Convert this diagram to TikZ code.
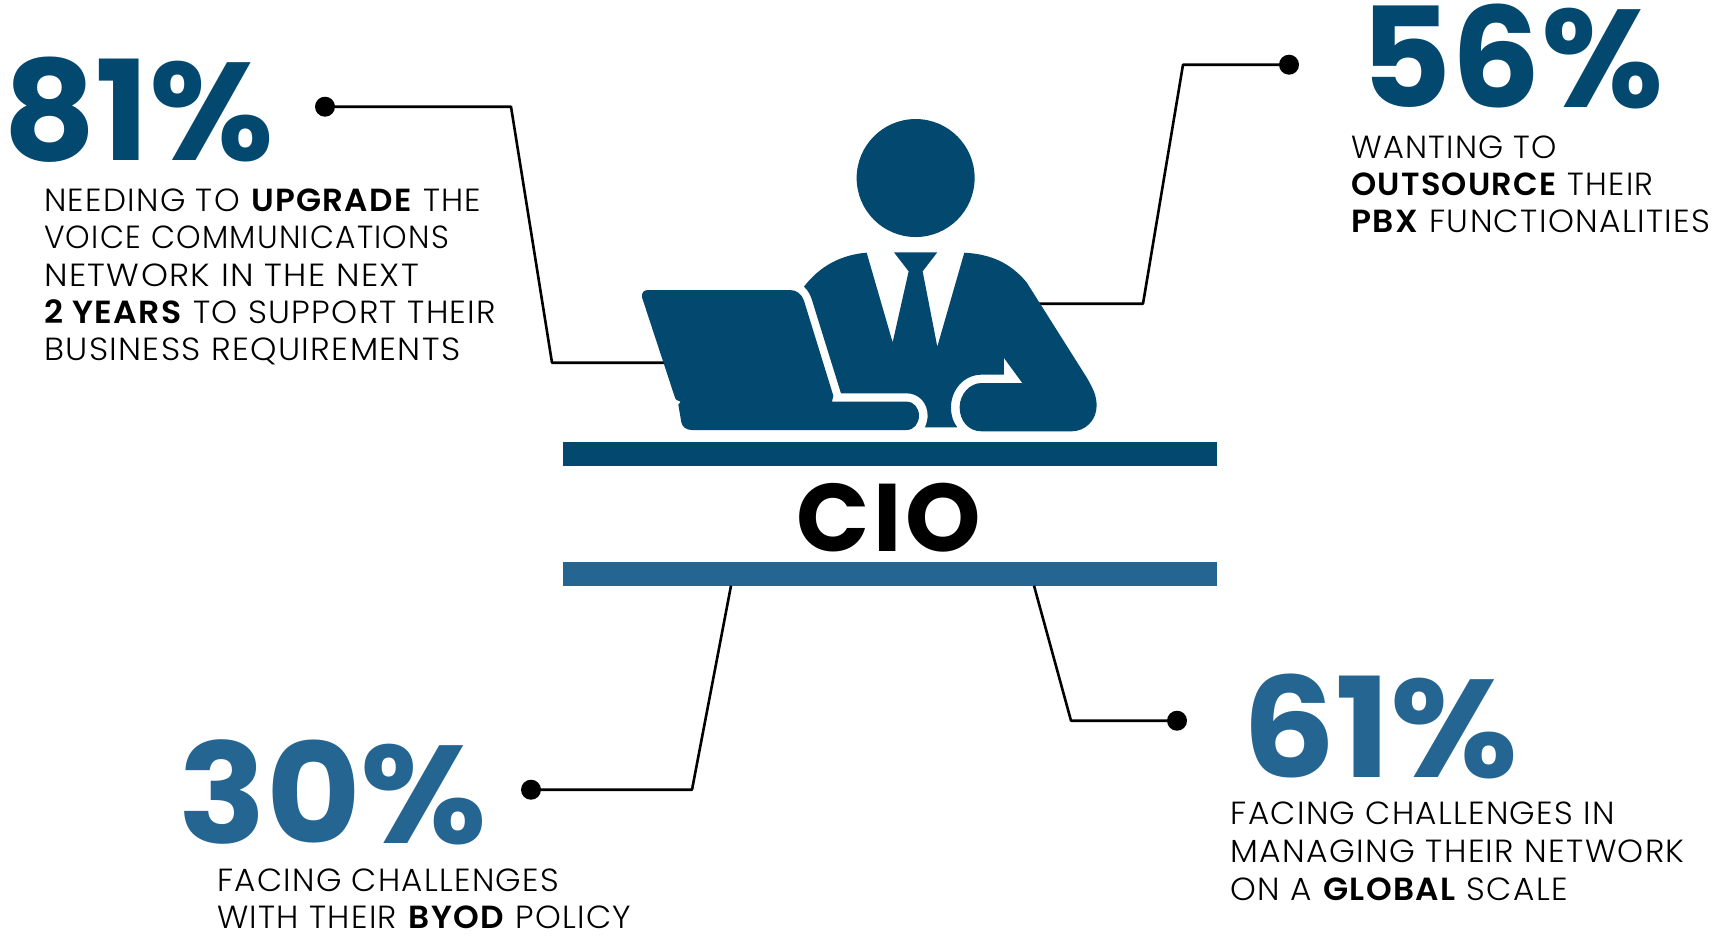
\documentclass[tikz,border=0pt]{standalone}
\usepackage{fontspec}
\usepackage{graphicx}
\setmainfont{Poppins}[UprightFont=* Light,BoldFont=* SemiBold,LetterSpace=4]
\newfontfamily\bigf{Poppins}[UprightFont=* Bold]
\newfontfamily\ciof{Poppins}[UprightFont=* Bold,LetterSpace=4]
\definecolor{navy}{HTML}{03486F}
\definecolor{midblue}{HTML}{256592}
\newcommand{\fitline}[2]{\resizebox{#1pt}{\height}{#2}}
\tikzset{
 x=1pt,y=-1pt,
 lead/.style={draw=black,line width=2.6pt,line join=round},
 dotnode/.style={circle,fill=black,inner sep=0pt,minimum size=20pt},
 bignum/.style={anchor=base west,inner sep=0pt,font=\bigf\fontsize{139}{139}\selectfont},
 body/.style={anchor=base west,inner sep=0pt,font=\fontsize{32}{32}\selectfont},
 bar/.style={rectangle,inner sep=0pt,minimum width=654pt,minimum height=24pt},
}
\begin{document}
\begin{tikzpicture}
\useasboundingbox (0,-0.7) rectangle (1712,939.3);
% bars
\node[bar,fill=navy] (bartop) at (890,453) {};
\node[bar,fill=midblue] (barbot) at (890,573) {};
\node[inner sep=0pt,anchor=base,font=\ciof\fontsize{96}{96}\selectfont] (cio) at (889,550.5) {CIO};
% dots and bends
\node[dotnode] (d81) at (325,106) {};
\node[dotnode] (d56) at (1289,64) {};
\node[dotnode] (d30) at (531,789) {};
\node[dotnode] (d61) at (1177,720) {};
\coordinate (a1) at (511,106);
\coordinate (a2) at (552,362);
\coordinate (a3) at (670,362);
\coordinate (b1) at (1183,64);
\coordinate (b2) at (1143,303);
\coordinate (b3) at (1030,303);
\coordinate (c1) at (692,789);
\coordinate (c2) at (731,585);
\coordinate (e1) at (1071,720);
\coordinate (e2) at (1034,585);
\draw[lead] (d81.center) -- (a1) -- (a2) -- (a3);
\draw[lead] (d56.center) -- (b1) -- (b2) -- (b3);
\draw[lead] (d30.center) -- (c1) -- (c2);
\draw[lead] (d61.center) -- (e1) -- (e2);
% figure
\begin{scope}[shift={(620,100)},x=0.3333pt,y=-0.3333pt]
\fill[navy] (887,232) circle[radius=177*0.3333pt];
\fill[navy] (552,558) .. controls (600,495) and (665,462) .. (740,456)
 -- (818,725) -- (866,512) -- (822,455) -- (952,455) -- (908,512) -- (952,738) -- (1033,456)
 .. controls (1110,460) and (1170,485) .. (1220,545)
 -- (1400,830) .. controls (1420,865) and (1430,885) .. (1430,915)
 .. controls (1430,960) and (1395,992) .. (1355,992)
 -- (1085,992) .. controls (1045,992) and (1019,960) .. (1019,920)
 .. controls (1019,880) and (1050,847) .. (1085,847)
 -- (1207,847) -- (1152,772) -- (1152,822) -- (1085,822)
 .. controls (1030,822) and (993,870) .. (993,920)
 .. controls (993,945) and (1000,965) .. (1012,980)
 -- (915,980) .. controls (920,968) and (923,955) .. (923,945)
 .. controls (923,905) and (895,878) .. (860,878)
 -- (663,878) -- (575,595) .. controls (570,580) and (563,568) .. (552,558) -- cycle;
\fill[navy] (66,590) .. controls (64,575) and (72,568) .. (85,568)
 -- (510,568) .. controls (530,568) and (545,580) .. (552,600)
 -- (640,885) -- (636,903) -- (860,903)
 .. controls (882,903) and (897,922) .. (897,945)
 .. controls (897,968) and (882,988) .. (860,988)
 -- (215,988) .. controls (198,988) and (187,978) .. (184,965)
 -- (175,912) -- (182,903) -- (170,898) .. controls (166,895) and (165,892) .. (163,885) -- cycle;
\end{scope}
% numbers
\node[bignum,text=navy] (n81) at (3,160) {\scalebox{1.03}[1]{81\%}};
\node[bignum,text=navy] (n56) at (1360,107) {\scalebox{1.011}[1]{56\%}};
\node[bignum,text=midblue] (n30) at (178,842.5) {\scalebox{1.046}[1]{30\%}};
\node[bignum,text=midblue] (n61) at (1242,776.5) {\scalebox{1.056}[1]{61\%}};
% text
\node[body] (t11) at (44,211) {\fitline{437}{NEEDING TO \textbf{UPGRADE} THE}};
\node[body] (t12) at (44,248) {\fitline{405}{VOICE COMMUNICATIONS}};
\node[body] (t13) at (44,286) {\fitline{375}{NETWORK IN THE NEXT}};
\node[body] (t14) at (44,323) {\fitline{452}{\textbf{2 YEARS} TO SUPPORT THEIR}};
\node[body] (t15) at (44,360) {\fitline{416}{BUSINESS REQUIREMENTS}};
\node[body] (t21) at (1351,157.5) {\fitline{206}{WANTING TO}};
\node[body] (t22) at (1351,195) {\fitline{302.5}{\textbf{OUTSOURCE} THEIR}};
\node[body] (t23) at (1351,232) {\fitline{359}{\textbf{PBX} FUNCTIONALITIES}};
\node[body] (t31) at (217,891) {\fitline{342}{FACING CHALLENGES}};
\node[body] (t32) at (217,928) {\fitline{414}{WITH THEIR \textbf{BYOD} POLICY}};
\node[body] (t41) at (1230.5,824) {\fitline{384}{FACING CHALLENGES IN}};
\node[body] (t42) at (1230.5,862) {\fitline{454}{MANAGING THEIR NETWORK}};
\node[body] (t43) at (1230.5,900) {\fitline{337}{ON A \textbf{GLOBAL} SCALE}};
\end{tikzpicture}
\end{document}
